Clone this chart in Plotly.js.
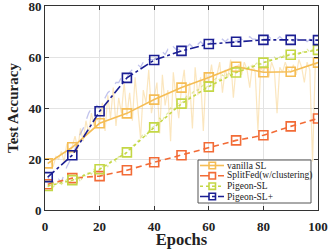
<!DOCTYPE html>
<html><head><meta charset="utf-8">
<script src="https://cdn.plot.ly/plotly-3.0.1.min.js"></script>
<style>html,body{margin:0;padding:0;background:#fff}#chart{width:329px;height:249px}</style>
</head><body><div id="chart"></div>
<script>
// Marked (smoothed) points every 10 epochs
const markEpochs = [1, 10, 20, 30, 40, 50, 60, 70, 80, 90, 100];
const vanillaSL = [18.3, 24.6, 34.0, 37.9, 43.3, 48.0, 52.0, 56.2, 54.0, 54.2, 57.8];
const splitFed = [10.1, 12.5, 13.3, 15.6, 18.7, 21.5, 24.6, 27.3, 29.3, 32.8, 35.9];
const pigeonSL = [9.4, 11.7, 16.0, 22.6, 32.4, 41.7, 48.4, 53.9, 57.8, 60.9, 62.8];
const pigeonSLPlus = [12.9, 21.5, 38.7, 51.8, 58.8, 62.4, 65.1, 66.0, 66.7, 66.7, 66.6];
const seriesNames = ["vanilla SL", "SplitFed(w/clustering)", "Pigeon-SL", "Pigeon-SL+"];

// Raw per-epoch curves (faint background lines)
const rawEpochs = [];
for (let i = 1; i <= 100; i++) rawEpochs.push(i);
const vanillaRaw = [18,19,17,21,20,23,19,26,22,25,
  29,24,32,27,35,30,38,33,36,34,
  42,31,45,36,48,33,44,38,50,37,
  46,35,52,40,28,47,42,55,38,44,
  50,30,53,41,47,27,54,44,36,48,
  55,40,50,32,56,45,52,31,54,50,
  57,48,53,58,46,55,52,59,44,56,
  57,53,58,55,48,57,54,31,56,54,
  57,52,58,55,38,56,54,58,55,54,
  57,53,59,56,50,58,55,19,57,58];
const pigeonSLPlusRaw = [13,11,11,10,12,11,14,17,19,21,
  24,27,30,32,35,38,40,39,41,40,
  42,44,46,47,48,50,50,52,53,52,
  54,55,55,57,56,58,57,59,59,59,
  60,61,62,61,63,62,64,63,63,62,
  64,64,65,64,66,65,66,65,67,65,
  66,67,66,66,67,66,67,66,67,66,
  67,67,66,67,68,67,67,66,67,67,
  67,68,67,66,67,68,67,66,67,67,
  66,67,67,66,67,66,67,66,67,67];
const pigeonSLRaw = [9,10,9,10,11,10,11,12,11,12,
  12,13,11,14,13,15,14,16,15,16,
  17,18,17,19,20,19,21,22,21,23,
  24,25,26,27,28,30,29,31,32,33,
  34,36,35,37,38,40,39,41,42,42,
  43,45,44,46,47,47,48,49,48,49,
  50,51,52,51,53,52,54,53,54,54,
  55,55,56,55,57,56,57,58,57,58,
  58,59,59,60,59,60,61,60,61,61,
  61,62,61,62,62,63,62,63,63,63];

const serif = "Liberation Serif, Times New Roman, serif";
const colors = ["#F5BD55", "#F26B36", "#C4D745", "#1B1E93"];
const dashes = ["solid", "dash", "dot", "dashdot"];
const mainY = [vanillaSL, splitFed, pigeonSL, pigeonSLPlus];

const traces = [
  {x: rawEpochs, y: vanillaRaw, mode: "lines", line: {color: "rgba(245,189,85,0.38)", width: 1.2}, showlegend: false, hoverinfo: "skip"},
  {x: rawEpochs, y: pigeonSLPlusRaw, mode: "lines", line: {color: "rgba(120,125,215,0.45)", width: 1.3, dash: "dash"}, showlegend: false, hoverinfo: "skip"},
  {x: rawEpochs, y: pigeonSLRaw, mode: "lines", line: {color: "rgba(196,215,69,0.5)", width: 1.2, dash: "dot"}, showlegend: false, hoverinfo: "skip"}
];
mainY.forEach((ys, i) => {
  traces.push({x: markEpochs, y: ys, name: seriesNames[i], mode: "lines+markers", showlegend: false,
    line: {color: colors[i], width: 1.6, dash: i === 1 ? "6px,4px" : dashes[i]},
    marker: {symbol: "square-open", size: 9, color: colors[i], line: {width: 1.6}}});
});

// Compact legend box (paper coordinates)
const plotL = 45, plotR = 318, plotT = 6, plotB = 210;
const px = v => (v - plotL) / (plotR - plotL);
const py = v => (plotB - v) / (plotB - plotT);
const shapes = [{type: "rect", xref: "paper", yref: "paper", x0: px(198), x1: px(311), y0: py(203), y1: py(160),
  line: {color: "#555", width: 1}, fillcolor: "#fff", layer: "above"}];
const annotations = [];
const rowY = [165.5, 175.8, 186.2, 196.5];
seriesNames.forEach((name, i) => {
  shapes.push({type: "line", xref: "paper", yref: "paper", x0: px(200), x1: px(224), y0: py(rowY[i]), y1: py(rowY[i]),
    line: {color: colors[i], width: 1.6, dash: dashes[i]}, layer: "above"});
  shapes.push({type: "rect", xref: "paper", yref: "paper", x0: px(209), x1: px(215.5), y0: py(rowY[i] + 3.2), y1: py(rowY[i] - 3.2),
    line: {color: colors[i], width: 1.6}, fillcolor: "rgba(255,255,255,0)", layer: "above"});
  annotations.push({xref: "paper", yref: "paper", x: px(225), y: py(rowY[i]), xanchor: "left", yanchor: "middle",
    text: name, showarrow: false, font: {family: serif, size: 9.5, color: "#222"}});
});

const axisCommon = {
  showline: true, mirror: "ticks", linecolor: "#333", linewidth: 1,
  ticks: "inside", ticklen: 4, tickcolor: "#333", ticklabeloverflow: "allow",
  showgrid: true, gridcolor: "#e3e3e3", gridwidth: 1, zeroline: false,
  tickfont: {family: serif, size: 13, color: "#222", weight: "bold"}
};

const layout = {
  width: 329, height: 249,
  margin: {l: 45, r: 11, t: 6, b: 39},
  paper_bgcolor: "#fff", plot_bgcolor: "#fff",
  xaxis: Object.assign({}, axisCommon, {range: [0, 100], tickvals: [0, 20, 40, 60, 80, 100], ticklabelstandoff: 4,
    title: {text: "Epochs", font: {family: serif, size: 16.5, color: "#222", weight: "bold"}, standoff: 3}}),
  yaxis: Object.assign({}, axisCommon, {range: [0, 80], tickvals: [0, 20, 40, 60, 80],
    title: {text: "Test Accuracy", font: {family: serif, size: 15, color: "#222", weight: "bold"}, standoff: 6}}),
  shapes: shapes, annotations: annotations,
  showlegend: false
};

Plotly.newPlot("chart", traces, layout, {displayModeBar: false, staticPlot: true});
</script></body></html>
